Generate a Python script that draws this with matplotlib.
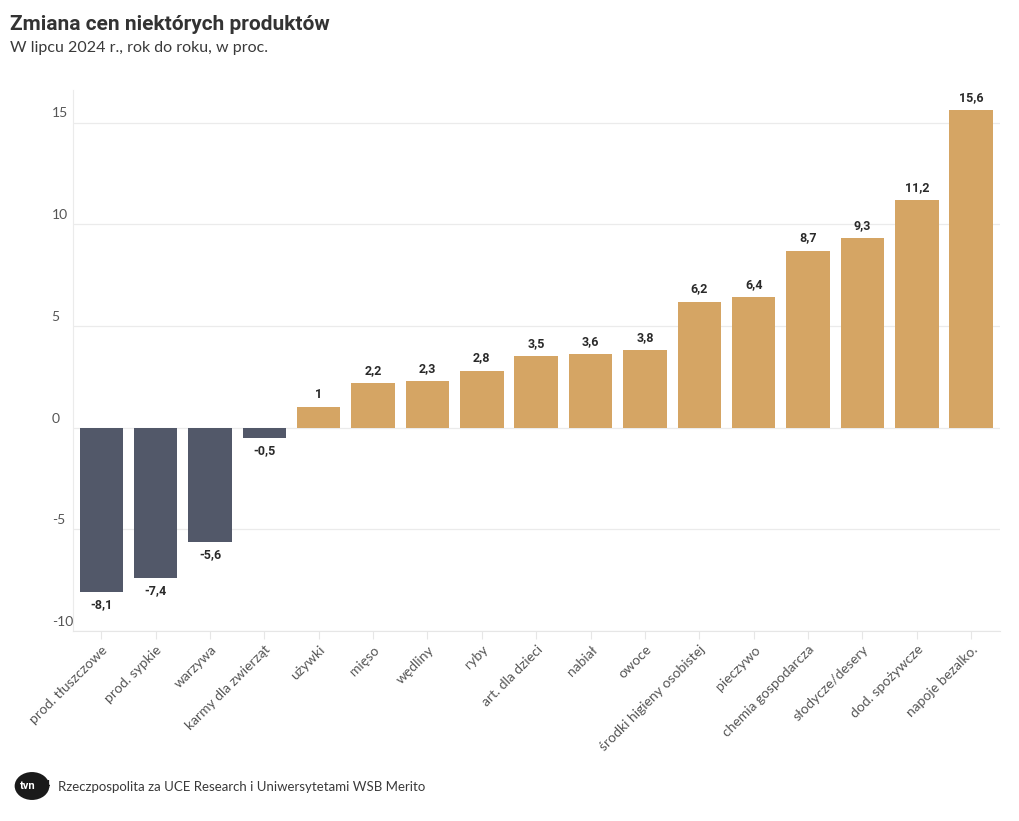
import matplotlib.pyplot as plt
from matplotlib.patches import Circle

categories = ['prod. tłuszczowe', 'prod. sypkie', 'warzywa', 'karmy dla zwierząt',
              'używki', 'mięso', 'wędliny', 'ryby', 'art. dla dzieci', 'nabiał',
              'owoce', 'środki higieny osobistej', 'pieczywo', 'chemia gospodarcza',
              'słodycze/desery', 'dod. spożywcze', 'napoje bezalko.']
values = [-8.1, -7.4, -5.6, -0.5, 1, 2.2, 2.3, 2.8, 3.5, 3.6, 3.8, 6.2, 6.4, 8.7, 9.3, 11.2, 15.6]
y_ticks = [-10, -5, 0, 5, 10, 15]

neg_color = '#525869'
pos_color = '#D5A564'
text_color = '#3a3a3a'

fig = plt.figure(figsize=(10.2, 8.21), dpi=100)
ax = fig.add_axes([73 / 1020, 1 - 631 / 821, (1000 - 73) / 1020, (631 - 90) / 821])

x = list(range(len(categories)))
colors = [neg_color if v < 0 else pos_color for v in values]
ax.bar(x, values, width=0.8, color=colors, zorder=3)

ax.set_xlim(-0.52, 16.53)
ax.set_ylim(-10, 16.6)

# grid + y labels placed above the gridline
for t in y_ticks:
    ax.axhline(t, color='#ebebeb', lw=0.9, zorder=1)
    ax.text(-0.023, t + 0.15, str(t), transform=ax.get_yaxis_transform(),
            ha='left', va='bottom', fontsize=10, color='#555555', family='Lato')
ax.set_yticks([])

for s in ['top', 'right']:
    ax.spines[s].set_visible(False)
ax.spines['left'].set_color('#ebebeb')
ax.spines['bottom'].set_color('#e6e6e6')

ax.set_xticks(x)
ax.set_xticklabels(categories, rotation=45, ha='right', rotation_mode='anchor',
                   fontsize=10, color='#555555', family='Lato')
ax.tick_params(axis='x', length=6, color='#e6e6e6', pad=3)

for xi, v in zip(x, values):
    lab = ('%g' % v).replace('.', ',')
    if v < 0:
        ax.text(xi, v - 0.3, lab, ha='center', va='top', fontsize=9,
                fontweight='bold', color='#2a2a2a', family='Roboto')
    else:
        ax.text(xi, v + 0.3, lab, ha='center', va='bottom', fontsize=9,
                fontweight='bold', color='#2a2a2a', family='Roboto')

fig.text(10 / 1020, 1 - 25 / 821, 'Zmiana cen niektórych produktów', fontsize=15,
         fontweight='bold', color='#333333', family='Roboto', va='center')
fig.text(10 / 1020, 1 - 48 / 821, 'W lipcu 2024 r., rok do roku, w proc.', fontsize=11.5,
         color='#3a3a3a', family='Lato', va='center')

# logo
fig.patches.append(Circle((32 / 1020, 1 - 786 / 821), 0.017, transform=fig.transFigure,
                          facecolor='#1a1a1a', edgecolor='none'))
fig.text(28 / 1020, 1 - 786 / 821, 'tvn', fontsize=8, fontweight='bold', color='white',
         ha='center', va='center', family='Roboto')
fig.text(45 / 1020, 1 - 785 / 821, '24', fontsize=7, fontweight='bold', color='#1a1a1a',
         ha='center', va='center', family='Roboto')
fig.text(58 / 1020, 1 - 787 / 821, 'Rzeczpospolita za UCE Research i Uniwersytetami WSB Merito',
         fontsize=9.5, color=text_color, family='Lato', va='center')

fig.savefig('out.png', dpi=100)
